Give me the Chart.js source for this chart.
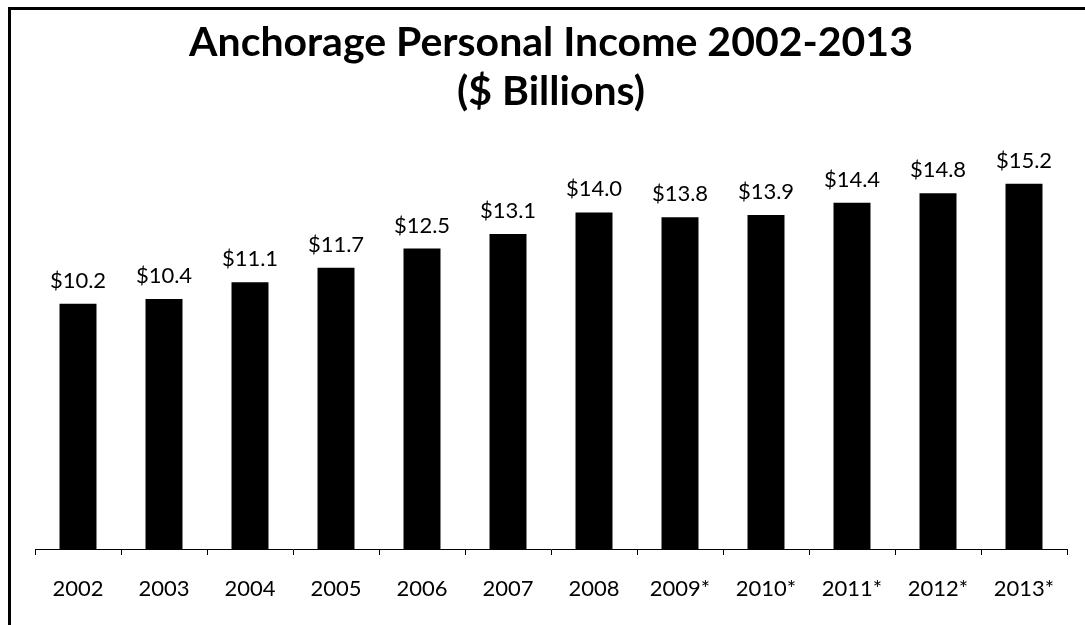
<!DOCTYPE html>
<html>
<head>
<meta charset="utf-8">
<title>Anchorage Personal Income 2002-2013</title>
<script src="https://cdn.jsdelivr.net/npm/chart.js@4.4.1/dist/chart.umd.min.js"></script>
<style>
  html, body { margin: 0; padding: 0; background: #fff; overflow: hidden; }
  #wrap { position: relative; width: 1085px; height: 625px; }
  /* frame: only the left and top edges fall inside the page */
  #frame {
    position: absolute; left: 8px; top: 7px; width: 1200px; height: 700px;
    border-left: 3px solid #000; border-top: 3px solid #000;
    pointer-events: none;
  }
  canvas { position: absolute; left: 0; top: 0; }
</style>
</head>
<body>
<div id="wrap">
  <canvas id="income" width="1085" height="625"></canvas>
  <div id="frame"></div>
</div>
<script>
var years = ["2002", "2003", "2004", "2005", "2006", "2007", "2008",
             "2009*", "2010*", "2011*", "2012*", "2013*"];
var incomeBillions = [10.2, 10.4, 11.1, 11.7, 12.5, 13.1, 14.0,
                      13.8, 13.9, 14.4, 14.8, 15.2];
var titleLines = ["Anchorage Personal Income 2002-2013", "($ Billions)"];

var FONT = "Lato, 'Open Sans', sans-serif";

// dollar labels above each bar
var valueLabels = {
  id: "valueLabels",
  afterDatasetsDraw: function (chart) {
    var ctx = chart.ctx;
    var meta = chart.getDatasetMeta(0);
    ctx.save();
    ctx.fillStyle = "#000";
    ctx.font = "22px " + FONT;
    ctx.textAlign = "center";
    ctx.textBaseline = "alphabetic";
    meta.data.forEach(function (bar, i) {
      ctx.fillText("$" + incomeBillions[i].toFixed(1), bar.x, bar.y - 16);
    });
    ctx.restore();
  }
};

new Chart(document.getElementById("income").getContext("2d"), {
  type: "bar",
  data: {
    labels: years,
    datasets: [{
      label: "Personal income",
      data: incomeBillions,
      backgroundColor: "#000",
      borderWidth: 0,
      barPercentage: 0.43,
      categoryPercentage: 1
    }]
  },
  options: {
    responsive: false,
    animation: false,
    layout: { padding: { left: 35, right: 18, top: 18, bottom: 16 } },
    plugins: {
      legend: { display: false },
      tooltip: { enabled: false },
      title: {
        display: true,
        text: titleLines,
        color: "#000",
        font: { family: FONT, size: 41, weight: "bold", lineHeight: 1.2 },
        padding: { top: 0, bottom: 48 }
      }
    },
    scales: {
      x: {
        grid: {
          display: true,
          offset: true,
          drawOnChartArea: false,
          drawTicks: true,
          tickLength: 6,
          color: "#000"
        },
        border: { display: true, color: "#000", width: 1 },
        ticks: {
          color: "#000",
          padding: 21,
          font: { family: FONT, size: 22 }
        },
        afterFit: function (scale) { scale.height = 60; }
      },
      y: {
        display: false,
        min: 0,
        max: 16
      }
    }
  },
  plugins: [valueLabels]
});
</script>
</body>
</html>
